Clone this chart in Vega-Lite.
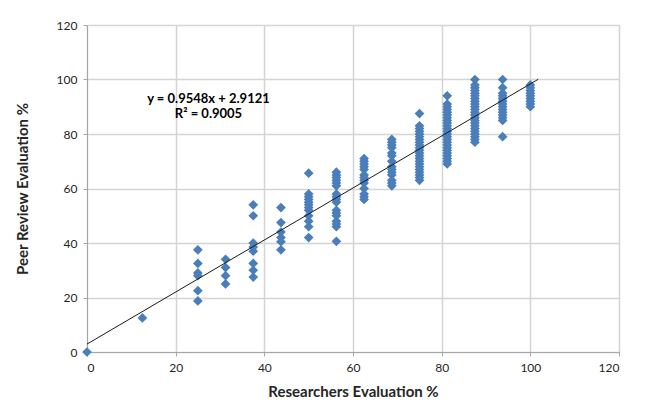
{
  "$schema": "https://vega.github.io/schema/vega-lite/v6.json",
  "autosize": "none",
  "width": 532,
  "height": 327,
  "padding": {"left": 87, "top": 25, "right": 27, "bottom": 60},
  "background": "white",
  "config": {
    "view": {"stroke": null},
    "font": "Lato",
    "axis": {
      "gridColor": "#d4d4d4",
      "gridWidth": 1.5,
      "domainColor": "#a6a6a6",
      "domainWidth": 1,
      "tickColor": "#a6a6a6",
      "tickSize": 4,
      "labelFont": "Lato",
      "labelFontSize": 12,
      "labelColor": "#262626",
      "titleFont": "Lato",
      "titleFontSize": 15,
      "titleFontWeight": "bold",
      "titleColor": "#262626"
    }
  },
  "datasets": {
    "pts": [
      {"x": 0, "y": 0},
      {"x": 12.5, "y": 12.5},
      {"x": 25, "y": 37.5}, {"x": 25, "y": 32.5}, {"x": 25, "y": 29}, {"x": 25, "y": 28}, {"x": 25, "y": 22.5}, {"x": 25, "y": 18.75},
      {"x": 31.25, "y": 34}, {"x": 31.25, "y": 31}, {"x": 31.25, "y": 28}, {"x": 31.25, "y": 25},
      {"x": 37.5, "y": 54}, {"x": 37.5, "y": 50}, {"x": 37.5, "y": 40}, {"x": 37.5, "y": 38.5}, {"x": 37.5, "y": 37}, {"x": 37.5, "y": 32.5}, {"x": 37.5, "y": 30}, {"x": 37.5, "y": 27.5},
      {"x": 43.75, "y": 53}, {"x": 43.75, "y": 47.5}, {"x": 43.75, "y": 44}, {"x": 43.75, "y": 42}, {"x": 43.75, "y": 40.5}, {"x": 43.75, "y": 37.5},
      {"x": 50, "y": 65.6}, {"x": 50, "y": 58}, {"x": 50, "y": 57}, {"x": 50, "y": 56}, {"x": 50, "y": 55}, {"x": 50, "y": 54}, {"x": 50, "y": 53}, {"x": 50, "y": 52}, {"x": 50, "y": 50}, {"x": 50, "y": 48}, {"x": 50, "y": 46}, {"x": 50, "y": 42},
      {"x": 56.25, "y": 66}, {"x": 56.25, "y": 65}, {"x": 56.25, "y": 64}, {"x": 56.25, "y": 63}, {"x": 56.25, "y": 62}, {"x": 56.25, "y": 61}, {"x": 56.25, "y": 58}, {"x": 56.25, "y": 57}, {"x": 56.25, "y": 56}, {"x": 56.25, "y": 55}, {"x": 56.25, "y": 52}, {"x": 56.25, "y": 51}, {"x": 56.25, "y": 50}, {"x": 56.25, "y": 48}, {"x": 56.25, "y": 47}, {"x": 56.25, "y": 46}, {"x": 56.25, "y": 40.6},
      {"x": 62.5, "y": 71}, {"x": 62.5, "y": 70}, {"x": 62.5, "y": 69}, {"x": 62.5, "y": 68}, {"x": 62.5, "y": 67}, {"x": 62.5, "y": 65}, {"x": 62.5, "y": 64}, {"x": 62.5, "y": 63}, {"x": 62.5, "y": 62}, {"x": 62.5, "y": 60}, {"x": 62.5, "y": 58}, {"x": 62.5, "y": 57}, {"x": 62.5, "y": 56},
      {"x": 68.75, "y": 78}, {"x": 68.75, "y": 77}, {"x": 68.75, "y": 76}, {"x": 68.75, "y": 75}, {"x": 68.75, "y": 73}, {"x": 68.75, "y": 72}, {"x": 68.75, "y": 70}, {"x": 68.75, "y": 68}, {"x": 68.75, "y": 67}, {"x": 68.75, "y": 66}, {"x": 68.75, "y": 65}, {"x": 68.75, "y": 63}, {"x": 68.75, "y": 62}, {"x": 68.75, "y": 61},
      {"x": 75, "y": 87.5}, {"x": 75, "y": 83}, {"x": 75, "y": 82}, {"x": 75, "y": 81}, {"x": 75, "y": 80}, {"x": 75, "y": 79}, {"x": 75, "y": 78}, {"x": 75, "y": 77}, {"x": 75, "y": 76}, {"x": 75, "y": 75}, {"x": 75, "y": 74}, {"x": 75, "y": 73}, {"x": 75, "y": 72}, {"x": 75, "y": 71}, {"x": 75, "y": 70}, {"x": 75, "y": 69}, {"x": 75, "y": 68}, {"x": 75, "y": 67}, {"x": 75, "y": 66}, {"x": 75, "y": 65}, {"x": 75, "y": 64}, {"x": 75, "y": 63},
      {"x": 81.25, "y": 94}, {"x": 81.25, "y": 91}, {"x": 81.25, "y": 90}, {"x": 81.25, "y": 89}, {"x": 81.25, "y": 88}, {"x": 81.25, "y": 87}, {"x": 81.25, "y": 86}, {"x": 81.25, "y": 85}, {"x": 81.25, "y": 84}, {"x": 81.25, "y": 83}, {"x": 81.25, "y": 82}, {"x": 81.25, "y": 81}, {"x": 81.25, "y": 80}, {"x": 81.25, "y": 79}, {"x": 81.25, "y": 78}, {"x": 81.25, "y": 77}, {"x": 81.25, "y": 76}, {"x": 81.25, "y": 75}, {"x": 81.25, "y": 74}, {"x": 81.25, "y": 73}, {"x": 81.25, "y": 72}, {"x": 81.25, "y": 71}, {"x": 81.25, "y": 70}, {"x": 81.25, "y": 69},
      {"x": 87.5, "y": 100}, {"x": 87.5, "y": 98}, {"x": 87.5, "y": 97}, {"x": 87.5, "y": 96}, {"x": 87.5, "y": 95}, {"x": 87.5, "y": 94}, {"x": 87.5, "y": 93}, {"x": 87.5, "y": 92}, {"x": 87.5, "y": 91}, {"x": 87.5, "y": 90}, {"x": 87.5, "y": 89}, {"x": 87.5, "y": 88}, {"x": 87.5, "y": 87}, {"x": 87.5, "y": 86}, {"x": 87.5, "y": 85}, {"x": 87.5, "y": 84}, {"x": 87.5, "y": 83}, {"x": 87.5, "y": 82}, {"x": 87.5, "y": 81}, {"x": 87.5, "y": 80}, {"x": 87.5, "y": 79}, {"x": 87.5, "y": 78}, {"x": 87.5, "y": 77},
      {"x": 93.75, "y": 100}, {"x": 93.75, "y": 97}, {"x": 93.75, "y": 95}, {"x": 93.75, "y": 94}, {"x": 93.75, "y": 93}, {"x": 93.75, "y": 92}, {"x": 93.75, "y": 91}, {"x": 93.75, "y": 90}, {"x": 93.75, "y": 89}, {"x": 93.75, "y": 88}, {"x": 93.75, "y": 87}, {"x": 93.75, "y": 86}, {"x": 93.75, "y": 85}, {"x": 93.75, "y": 79},
      {"x": 100, "y": 98}, {"x": 100, "y": 97}, {"x": 100, "y": 96}, {"x": 100, "y": 95}, {"x": 100, "y": 94}, {"x": 100, "y": 93}, {"x": 100, "y": 92}, {"x": 100, "y": 91}, {"x": 100, "y": 90}
    ],
    "trend": [
      {"x": 0, "y": 2.9121},
      {"x": 101.8, "y": 100.1}
    ],
    "eq": [
      {"x": 27.4, "y": 93, "label": "y = 0.9548x + 2.9121"},
      {"x": 27.4, "y": 87.2, "label": "R² = 0.9005"}
    ]
  },
  "layer": [
    {
      "data": {"name": "pts"},
      "mark": {"type": "point", "shape": "diamond", "filled": true, "size": 95, "color": "#4a7ebb", "opacity": 1},
      "encoding": {
        "x": {"field": "x", "type": "quantitative", "scale": {"domain": [0, 120]},
              "axis": {"values": [0, 20, 40, 60, 80, 100, 120], "title": "Researchers Evaluation %", "labelPadding": 6, "titlePadding": 11}},
        "y": {"field": "y", "type": "quantitative", "scale": {"domain": [0, 120]},
              "axis": {"values": [0, 20, 40, 60, 80, 100, 120], "title": "Peer Review Evaluation %", "labelPadding": 6, "titlePadding": 26}}
      }
    },
    {
      "data": {"name": "trend"},
      "mark": {"type": "line", "color": "#1a1a1a", "strokeWidth": 1},
      "encoding": {
        "x": {"field": "x", "type": "quantitative"},
        "y": {"field": "y", "type": "quantitative"}
      }
    },
    {
      "data": {"name": "eq"},
      "mark": {"type": "text", "font": "Lato", "fontSize": 13, "fontWeight": "bold", "color": "#000000", "align": "center", "baseline": "middle"},
      "encoding": {
        "x": {"field": "x", "type": "quantitative"},
        "y": {"field": "y", "type": "quantitative"},
        "text": {"field": "label"}
      }
    }
  ]
}
